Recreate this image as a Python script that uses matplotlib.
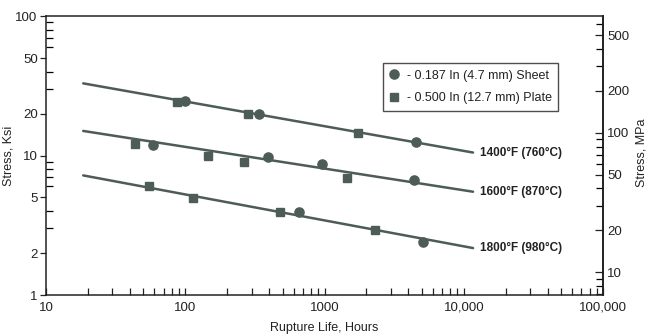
import matplotlib
matplotlib.use("Agg")
import matplotlib.pyplot as plt
from matplotlib.lines import Line2D
from matplotlib.ticker import LogLocator, FixedLocator, FuncFormatter, NullFormatter

plt.rcParams['font.family'] = ['Liberation Sans', 'DejaVu Sans']

# Rupture life (hours) and stress (ksi) for each test temperature
temps = ["1400°F (760°C)", "1600°F (870°C)", "1800°F (980°C)"]

sheet_hours_1400 = [99.5, 339, 4540]
sheet_ksi_1400 = [24.7, 19.8, 12.4]
plate_hours_1400 = [86.8, 280, 1750]
plate_ksi_1400 = [24.3, 19.8, 14.6]

sheet_hours_1600 = [58.3, 394, 955, 4420]
sheet_ksi_1600 = [11.9, 9.75, 8.73, 6.70]
plate_hours_1600 = [43.6, 146.6, 265.6, 1443]
plate_ksi_1600 = [12.1, 9.96, 8.91, 6.90]

sheet_hours_1800 = [659, 5130]
sheet_ksi_1800 = [3.92, 2.39]
plate_hours_1800 = [55.2, 114, 479, 2306]
plate_ksi_1800 = [6.08, 4.97, 3.95, 2.90]

# Fitted trend lines (end points)
fit_hours = [18.5, 11650]
fit_ksi_1400 = [32.9, 10.5]
fit_ksi_1600 = [15.0, 5.5]
fit_ksi_1800 = [7.2, 2.17]

x_ticks = [10, 100, 1000, 10000, 100000]
x_tick_labels = ["10", "100", "1000", "10,000", "100,000"]
y_ticks = [1, 2, 5, 10, 20, 50, 100]
mpa_ticks = [10, 20, 50, 100, 200, 500]
KSI_TO_MPA = 6.895

legend_labels = ["- 0.187 In (4.7 mm) Sheet", "- 0.500 In (12.7 mm) Plate"]

ink = "#222222"
mark = "#4d5c57"

fig = plt.figure(figsize=(6.5, 3.35), dpi=100)
ax = fig.add_axes([0.0708, 0.1194, 0.857, 0.8328])
ax.set_xscale('log')
ax.set_yscale('log')
ax.set_xlim(10, 100000)
ax.set_ylim(1, 100)

groups = [
    (fit_ksi_1400, sheet_hours_1400, sheet_ksi_1400, plate_hours_1400, plate_ksi_1400),
    (fit_ksi_1600, sheet_hours_1600, sheet_ksi_1600, plate_hours_1600, plate_ksi_1600),
    (fit_ksi_1800, sheet_hours_1800, sheet_ksi_1800, plate_hours_1800, plate_ksi_1800),
]
for label, (fk, sh, sk, ph, pk) in zip(temps, groups):
    ax.plot(fit_hours, fk, color=mark, lw=1.8, solid_capstyle='round', zorder=2)
    ax.plot(sh, sk, ls='none', marker='o', ms=6.6, mfc=mark, mec=mark, zorder=3)
    ax.plot(ph, pk, ls='none', marker='s', ms=6.2, mfc=mark, mec=mark, zorder=3)
    ax.annotate(label, xy=(fit_hours[-1], fk[-1]), xytext=(5, 0),
                textcoords='offset points', va='center', ha='left',
                fontsize=8.5, fontweight='bold', color=ink)

# Axes styling
for s in ax.spines.values():
    s.set_linewidth(1.1)
    s.set_color(ink)

ax.xaxis.set_major_locator(FixedLocator(x_ticks))
ax.set_xticklabels(x_tick_labels)
ax.xaxis.set_minor_locator(LogLocator(base=10, subs=range(2, 10)))
ax.xaxis.set_minor_formatter(NullFormatter())
ax.yaxis.set_major_locator(FixedLocator(y_ticks))
ax.set_yticklabels([str(v) for v in y_ticks])
ax.yaxis.set_minor_locator(LogLocator(base=10, subs=range(2, 10)))
ax.yaxis.set_minor_formatter(NullFormatter())

ax.tick_params(axis='x', which='both', direction='in', length=5, width=0.9,
               top=False, labelsize=9.5, colors=ink, pad=5)
ax.tick_params(axis='y', which='major', direction='out', length=4, width=0.9,
               right=False, labelsize=9.5, colors=ink, pad=2)
ax.tick_params(axis='y', which='minor', direction='in', length=5, width=0.9,
               right=False)

ax.set_xlabel("Rupture Life, Hours", fontsize=9, color=ink, labelpad=6)
ax.set_ylabel("Stress, Ksi", fontsize=9, color=ink)
ax.yaxis.set_label_coords(-0.057, 0.5)

sec = ax.secondary_yaxis('right', functions=(lambda k: k * KSI_TO_MPA,
                                               lambda m: m / KSI_TO_MPA))
sec.set_yscale('log')
sec.yaxis.set_major_locator(FixedLocator(mpa_ticks))
sec.yaxis.set_major_formatter(FuncFormatter(lambda v, p: f"{v:g}"))
sec.yaxis.set_minor_locator(LogLocator(base=10, subs=range(2, 10)))
sec.yaxis.set_minor_formatter(NullFormatter())
sec.tick_params(which='major', direction='in', length=6, width=0.9,
                labelsize=9.5, colors=ink, pad=3)
sec.tick_params(which='minor', direction='in', length=5, width=0.9)
sec.spines['right'].set_linewidth(1.1)
fig.text(641 / 650, 1 - 153 / 335, "Stress, MPa", rotation=90,
         ha='center', va='center', fontsize=9, color=ink)

handles = [
    Line2D([], [], ls='none', marker='o', ms=6.6, mfc=mark, mec=mark),
    Line2D([], [], ls='none', marker='s', ms=6.0, mfc=mark, mec=mark),
]
leg = ax.legend(handles, legend_labels, loc='upper left',
                bbox_to_anchor=(0.605, 0.83), borderaxespad=0,
                fontsize=9, frameon=True, fancybox=False, shadow=False,
                handlelength=0.8, handletextpad=0.6, labelspacing=0.85,
                borderpad=0.5)
leg.get_frame().set_edgecolor(ink)
leg.get_frame().set_linewidth(1.0)
for t in leg.get_texts():
    t.set_color(ink)

fig.savefig("out.png", dpi=100)
